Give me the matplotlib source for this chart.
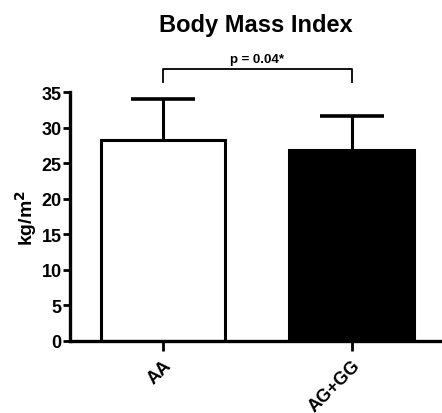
import matplotlib
matplotlib.use("Agg")
import matplotlib.pyplot as plt

groups = ["AA", "AG+GG"]
means = [28.3, 26.9]
sd_upper = [5.7, 4.7]
bar_colors = ["white", "black"]
y_ticks = [0, 5, 10, 15, 20, 25, 30, 35]
p_label = "p = 0.04*"

plt.rcParams['font.family'] = ['Liberation Sans', 'DejaVu Sans']
plt.rcParams['font.weight'] = 'bold'

fig = plt.figure(figsize=(4.42, 4.14), dpi=100)
ax = fig.add_axes([0.158, 0.174, 0.842, 0.601])

x = list(range(len(groups)))
ax.bar(x, means, width=0.66, color=bar_colors, edgecolor="black", linewidth=2.2, zorder=2)
# only the upper half of the error bar is shown
_, caps, _ = ax.errorbar(x, means, yerr=[[0, 0], sd_upper], fmt="none", ecolor="black",
                         elinewidth=2.2, capsize=23, capthick=2.6, zorder=1)
caps[0].set_visible(False)

ax.set_xlim(-0.493, 1.479)
ax.set_ylim(0, 35)
ax.set_yticks(y_ticks)
ax.set_xticks(x)
ax.set_xticklabels(groups, rotation=45, ha="right", rotation_mode="anchor", fontsize=13, fontweight="bold")
ax.tick_params(axis="y", labelsize=13, width=2, length=5, pad=1)
ax.tick_params(axis="x", width=2, length=7, pad=4)
for lab in ax.get_yticklabels():
    lab.set_fontweight("bold")

for side in ["top", "right"]:
    ax.spines[side].set_visible(False)
for side in ["left", "bottom"]:
    ax.spines[side].set_linewidth(2.4)

ax.set_ylabel("kg/m$^\\mathbf{2}$", fontsize=14, fontweight="bold", labelpad=2)
ax.set_title("Body Mass Index", fontsize=17, fontweight="bold", pad=44)

# significance bracket
y_br = 38.25
ax.plot([0, 0, 1, 1], [36.4, y_br, y_br, 36.4], color="black", linewidth=1.3, clip_on=False)
ax.text(0.5, y_br + 0.6, p_label, ha="center", va="bottom", fontsize=9.5, fontweight="bold")

fig.savefig("out.png", dpi=100)
